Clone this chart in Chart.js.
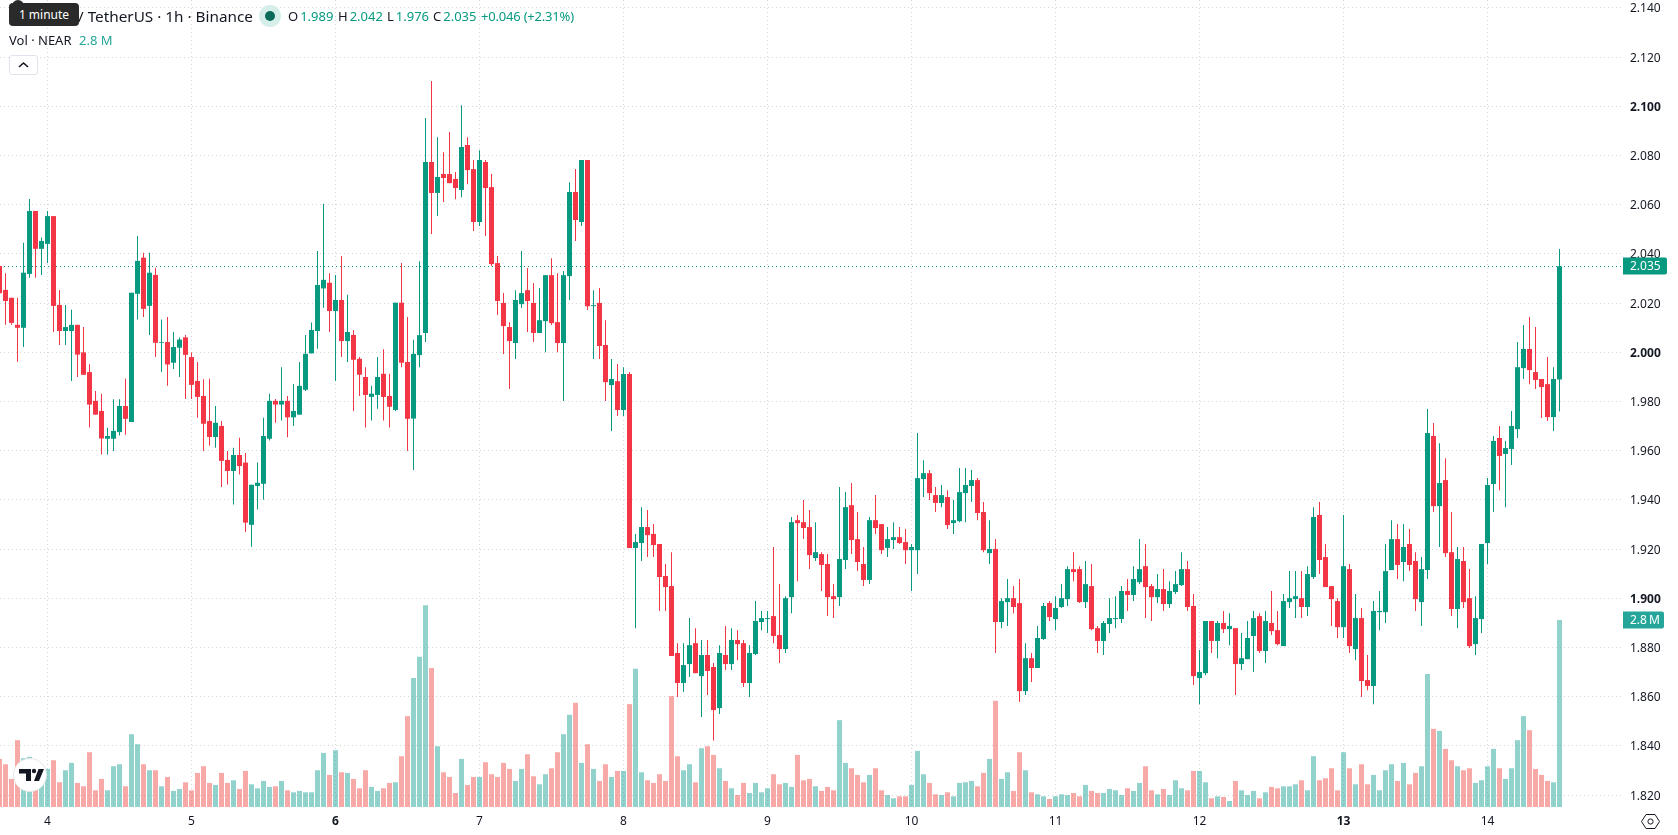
<!DOCTYPE html>
<html>
<head>
<meta charset="utf-8">
<title>NEAR / TetherUS 1h</title>
<script src="https://cdn.jsdelivr.net/npm/chart.js@4"></script>
<style>
    html, body { margin: 0; padding: 0; background: #fff; overflow: hidden; }
    body { width: 1678px; height: 835px; position: relative; font-family: "Noto Sans", sans-serif; color: #131722; }
    canvas { position: absolute; left: 0; top: 0; }
    .txt { position: absolute; white-space: nowrap; line-height: 18px; }
    .up { color: #089981; }
    #tip { position: absolute; left: 9px; top: 3px; width: 70px; height: 23px; background: #2a2a2a; border-radius: 4px; color: #fff; font-size: 12px; line-height: 23px; text-align: center; }
    #tipArrow { position: absolute; left: 12px; top: 0; width: 12px; height: 6px; background: #2a2a2a; border-radius: 6px 6px 0 0; }
    #status { position: absolute; left: 259px; top: 5px; width: 22px; height: 22px; border-radius: 50%; background: #d5eee9; }
    #status div { position: absolute; left: 6px; top: 6px; width: 10px; height: 10px; border-radius: 50%; background: #0b6b5b; }
    #toggle { position: absolute; left: 9px; top: 55px; width: 27px; height: 18px; background: #fff; border: 1px solid #e0e3eb; border-radius: 3px; }
    #logo { position: absolute; left: 13px; top: 758px; width: 34px; height: 34px; }
    #gear { position: absolute; left: 1639px; top: 810px; width: 23px; height: 23px; }
</style>
</head>
<body>
<canvas id="candles" width="1678" height="835"></canvas>

<div class="txt" style="left:78px;top:7px;font-size:15.3px">/ TetherUS · 1h · Binance</div>
<div id="status"><div></div></div>
<div class="txt" style="left:288px;top:7px;font-size:13px">O<span class="up" style="margin-left:2px">1.989</span></div>
<div class="txt" style="left:338px;top:7px;font-size:13px">H<span class="up" style="margin-left:2px">2.042</span></div>
<div class="txt" style="left:387px;top:7px;font-size:13px">L<span class="up" style="margin-left:2px">1.976</span></div>
<div class="txt" style="left:433px;top:7px;font-size:13px">C<span class="up" style="margin-left:2px">2.035</span></div>
<div class="txt up" style="left:481px;top:7px;font-size:13px;letter-spacing:-0.2px">+0.046 (+2.31%)</div>
<div class="txt" style="left:9px;top:31px;font-size:13px">Vol · NEAR</div>
<div class="txt" style="left:79px;top:31px;font-size:13px;color:#26a69a">2.8 M</div>
<div id="toggle">
    <svg width="27" height="18"><path d="M9 11 L13.5 7 L18 11" fill="none" stroke="#131722" stroke-width="1.6"/></svg>
</div>
<div id="tipArrow"></div>
<div id="tip">1 minute</div>

<svg id="logo" viewBox="0 0 34 34">
    <circle cx="17" cy="17" r="16.5" fill="#fff" stroke="#e6e6e6"/>
    <path d="M6 11h12v12h-5v-7.5H6z M21 23l4.5-12h5.5l-5 12z" fill="#131722"/>
    <circle cx="21" cy="13" r="2.2" fill="#131722"/>
</svg>
<svg id="gear" viewBox="0 0 23 23">
    <path d="M7 4.5h9l4.5 7-4.5 7H7l-4.5-7z" fill="none" stroke="#131722"/>
    <circle cx="11.5" cy="11.5" r="2.6" fill="none" stroke="#131722"/>
</svg>

<script>
// hourly candles, index 0 is the 00:00 candle of day 4
var firstHour = -8;

var opens = [
    2.0351, 2.0254, 2.0222, 2.0112, 2.0100, 2.0319, 2.0575, 2.0421,
    2.0441, 2.0554, 2.0193, 2.0087, 2.0087, 2.0112, 2.0000, 1.9920, 1.9803, 1.9762, 1.9649, 1.9649, 1.9676, 1.9782, 1.9717, 2.0238,
    2.0385, 2.0189, 2.0315, 2.0039, 2.0042, 1.9958, 2.0019, 2.0061, 1.9981, 1.9884, 1.9823, 1.9721, 1.9656, 1.9701, 1.9563, 1.9518,
    1.9583, 1.9552, 1.9299, 1.9457, 1.9466, 1.9649, 1.9803, 1.9788,
    1.9803, 1.9736, 1.9747, 1.9848, 1.9996, 2.0087, 2.0260, 2.0283, 2.0168, 2.0213, 2.0046, 2.0071, 1.9974, 1.9900, 1.9819, 1.9827,
    1.9913, 1.9823, 1.9766, 2.0202, 1.9961, 1.9731, 1.9989, 2.0079,
    2.0774, 2.0648, 2.0725, 2.0725, 2.0705, 2.0660, 2.0843, 2.0745, 2.0530, 2.0774, 2.0672, 2.0363, 2.0201, 2.0103, 2.0038, 2.0196,
    2.0253, 2.0201, 2.0079, 2.0127, 2.0314, 2.0123, 2.0038, 2.0310,
    2.0652, 2.0530, 2.0782, 2.0188, 2.0201, 2.0030, 1.9867, 1.9883, 1.9766, 1.9912, 1.9205, 1.9225, 1.9290, 1.9262, 1.9221, 1.9091,
    1.9050, 1.8778, 1.8656, 1.8733, 1.8818, 1.8684, 1.8770, 1.8721,
    1.8554, 1.8770, 1.8733, 1.8831, 1.8818, 1.8656, 1.8774, 1.8904, 1.8916, 1.8928, 1.8851, 1.8794, 1.9005, 1.9318, 1.9310, 1.9290,
    1.9164, 1.9180, 1.9140, 1.9009, 1.9005, 1.9156, 1.9379, 1.9241,
    1.9140, 1.9075, 1.9318, 1.9302, 1.9205, 1.9237, 1.9249, 1.9229, 1.9196, 1.9196, 1.9485, 1.9509, 1.9420, 1.9388, 1.9412, 1.9306,
    1.9314, 1.9428, 1.9457, 1.9481, 1.9351, 1.9184, 1.9201, 1.8904,
    1.8985, 1.9001, 1.8981, 1.8623, 1.8757, 1.8717, 1.8835, 1.8981, 1.8916, 1.8965, 1.8997, 1.9119, 1.9119, 1.8985, 1.9050, 1.8879,
    1.8827, 1.8896, 1.8916, 1.8916, 1.9030, 1.9014, 1.9066, 1.9131,
    1.9050, 1.9005, 1.9038, 1.8977, 1.9026, 1.9054, 1.9119, 1.8969, 1.8676, 1.8696, 1.8908, 1.8827, 1.8900, 1.8875, 1.8879, 1.8733,
    1.8753, 1.8847, 1.8928, 1.8786, 1.8900, 1.8871, 1.8806, 1.8985,
    1.8997, 1.9001, 1.8965, 1.9087, 1.9339, 1.9168, 1.9050, 1.8989, 1.8883, 1.9119, 1.8794, 1.8920, 1.8668, 1.8644, 1.8944, 1.8944,
    1.9115, 1.9241, 1.9148, 1.9221, 1.9152, 1.8985, 1.9115, 1.9660,
    1.9375, 1.9481, 1.9188, 1.8957, 1.9152, 1.9001, 1.8814, 1.8916, 1.9225, 1.9465, 1.9652, 1.9587, 1.9607, 1.9688, 1.9936, 2.0014,
    1.9920, 1.9892, 1.9871, 1.9737, 1.989
];
var closes = [
    2.0240, 2.0209, 2.0120, 2.0100, 2.0324, 2.0575, 2.0421, 2.0453,
    2.0554, 2.0189, 2.0087, 2.0103, 2.0112, 1.9991, 1.9909, 1.9788, 1.9747, 1.9650, 1.9660, 1.9681, 1.9782, 1.9730, 2.0242, 2.0372,
    2.0177, 2.0324, 2.0039, 2.0042, 1.9951, 2.0022, 2.0052, 1.9990, 1.9868, 1.9819, 1.9710, 1.9656, 1.9714, 1.9559, 1.9518, 1.9583,
    1.9538, 1.9308, 1.9462, 1.9470, 1.9660, 1.9803, 1.9788, 1.9803,
    1.9736, 1.9762, 1.9864, 1.9994, 2.0091, 2.0274, 2.0295, 2.0168, 2.0213, 2.0046, 2.0083, 1.9970, 1.9909, 1.9827, 1.9832, 1.9900,
    1.9819, 1.9779, 2.0202, 1.9958, 1.9730, 1.9994, 2.0070, 2.0774,
    2.0648, 2.0713, 2.0709, 2.0688, 2.0668, 2.0835, 2.0741, 2.0530, 2.0782, 2.0668, 2.0359, 2.0209, 2.0107, 2.0046, 2.0213, 2.0241,
    2.0209, 2.0079, 2.0131, 2.0314, 2.0119, 2.0038, 2.0314, 2.0652,
    2.0538, 2.0782, 2.0188, 2.0192, 2.0026, 1.9879, 1.9892, 1.9766, 1.9912, 1.9205, 1.9229, 1.9290, 1.9257, 1.9217, 1.9087, 1.9046,
    1.8766, 1.8656, 1.8729, 1.8810, 1.8696, 1.8770, 1.8705, 1.8546,
    1.8778, 1.8733, 1.8831, 1.8814, 1.8656, 1.8778, 1.8908, 1.8920, 1.8920, 1.8847, 1.8794, 1.9001, 1.9310, 1.9306, 1.9286, 1.9176,
    1.9188, 1.9136, 1.9005, 1.8997, 1.9160, 1.9371, 1.9237, 1.9148,
    1.9075, 1.9318, 1.9286, 1.9196, 1.9241, 1.9249, 1.9225, 1.9196, 1.9209, 1.9489, 1.9509, 1.9428, 1.9388, 1.9420, 1.9298, 1.9318,
    1.9432, 1.9461, 1.9481, 1.9347, 1.9196, 1.9201, 1.8904, 1.8989,
    1.9001, 1.8965, 1.8623, 1.8757, 1.8717, 1.8839, 1.8969, 1.8924, 1.8961, 1.9001, 1.9119, 1.9107, 1.8985, 1.9058, 1.8875, 1.8827,
    1.8900, 1.8920, 1.8920, 1.9030, 1.9014, 1.9079, 1.9119, 1.9046,
    1.9005, 1.9038, 1.8977, 1.9030, 1.9058, 1.9119, 1.8965, 1.8684, 1.8701, 1.8908, 1.8827, 1.8900, 1.8875, 1.8888, 1.8733, 1.8757,
    1.8839, 1.8920, 1.8786, 1.8908, 1.8867, 1.8814, 1.8989, 1.9001,
    1.9009, 1.8965, 1.9099, 1.9331, 1.9156, 1.9046, 1.8997, 1.8883, 1.9131, 1.8806, 1.8920, 1.8664, 1.8644, 1.8949, 1.8949, 1.9111,
    1.9241, 1.9136, 1.9209, 1.9136, 1.8997, 1.9119, 1.9672, 1.9375,
    1.9469, 1.9184, 1.8957, 1.9160, 1.8985, 1.8806, 1.8920, 1.9221, 1.9461, 1.9640, 1.9579, 1.9611, 1.9701, 1.9940, 2.0014, 1.9928,
    1.9888, 1.9859, 1.9737, 1.9892, 2.035
];
var highs = [
    2.0360, 2.0322, 2.0222, 2.0222, 2.0446, 2.0624, 2.0575, 2.0467,
    2.0575, 2.0554, 2.0254, 2.0193, 2.0173, 2.0112, 2.0103, 1.9952, 1.9843, 1.9832, 1.9694, 1.9810, 1.9810, 1.9893, 2.0242, 2.0473,
    2.0405, 2.0405, 2.0344, 2.0134, 2.0144, 2.0083, 2.0061, 2.0071, 2.0000, 1.9961, 1.9891, 1.9893, 1.9782, 1.9721, 1.9599, 1.9612,
    1.9653, 1.9591, 1.9462, 1.9552, 1.9734, 1.9832, 1.9811, 1.9940,
    1.9823, 1.9872, 1.9961, 2.0071, 2.0122, 2.0412, 2.0604, 2.0322, 2.0315, 2.0392, 2.0234, 2.0091, 1.9981, 1.9940, 1.9864, 1.9981,
    2.0013, 1.9913, 2.0202, 2.0363, 2.0144, 2.0051, 2.0371, 2.0953,
    2.1103, 2.0875, 2.0814, 2.0896, 2.0733, 2.1005, 2.0875, 2.0782, 2.0822, 2.0782, 2.0725, 2.0392, 2.0241, 2.0123, 2.0253, 2.0412,
    2.0343, 2.0282, 2.0262, 2.0314, 2.0383, 2.0322, 2.0331, 2.0692,
    2.0745, 2.0782, 2.0782, 2.0253, 2.0262, 2.0131, 1.9973, 1.9953, 1.9940, 1.9920, 1.9262, 1.9371, 1.9359, 1.9302, 1.9221, 1.9140,
    1.9188, 1.8818, 1.8818, 1.8920, 1.8879, 1.8831, 1.8831, 1.8737,
    1.8810, 1.8888, 1.8879, 1.8871, 1.8831, 1.8810, 1.8989, 1.8949, 1.8949, 1.9209, 1.9058, 1.9009, 1.9331, 1.9339, 1.9400, 1.9359,
    1.9310, 1.9188, 1.9180, 1.9058, 1.9453, 1.9432, 1.9469, 1.9351,
    1.9209, 1.9331, 1.9420, 1.9302, 1.9290, 1.9310, 1.9290, 1.9282, 1.9221, 1.9672, 1.9562, 1.9522, 1.9453, 1.9461, 1.9440, 1.9400,
    1.9530, 1.9530, 1.9522, 1.9489, 1.9392, 1.9318, 1.9241, 1.9001,
    1.9079, 1.9050, 1.9079, 1.8818, 1.8778, 1.8888, 1.8981, 1.8989, 1.9009, 1.9058, 1.9131, 1.9188, 1.9131, 1.9152, 1.9140, 1.8888,
    1.8908, 1.9001, 1.9009, 1.9050, 1.9079, 1.9131, 1.9241, 1.9221,
    1.9058, 1.9099, 1.9119, 1.9070, 1.9111, 1.9188, 1.9152, 1.9018, 1.8790, 1.8908, 1.8908, 1.8908, 1.8949, 1.8940, 1.8879, 1.8859,
    1.8908, 1.8949, 1.8940, 1.8949, 1.9030, 1.8949, 1.9018, 1.9111,
    1.9111, 1.9111, 1.9131, 1.9371, 1.9392, 1.9221, 1.9050, 1.9001, 1.9339, 1.9140, 1.9018, 1.8961, 1.8770, 1.8989, 1.9030, 1.9221,
    1.9318, 1.9302, 1.9302, 1.9282, 1.9188, 1.9168, 1.9770, 1.9713,
    1.9631, 1.9570, 1.9351, 1.9209, 1.9209, 1.9119, 1.9009, 1.9221, 1.9489, 1.9660, 1.9701, 1.9640, 1.9762, 2.0042, 2.0111, 2.0144,
    2.0103, 1.9892, 1.9981, 1.9940, 2.042
];
var lows = [
    2.0220, 2.0112, 2.0112, 1.9962, 2.0022, 2.0303, 2.0303, 2.0315,
    2.0363, 2.0083, 2.0030, 2.0030, 1.9884, 1.9900, 1.9909, 1.9695, 1.9747, 1.9585, 1.9585, 1.9599, 1.9662, 1.9665, 1.9717, 2.0134,
    2.0144, 2.0071, 1.9981, 1.9920, 1.9864, 1.9933, 1.9900, 1.9811, 1.9811, 1.9734, 1.9599, 1.9620, 1.9612, 1.9453, 1.9463, 1.9382,
    1.9504, 1.9270, 1.9210, 1.9361, 1.9401, 1.9642, 1.9714, 1.9723,
    1.9655, 1.9701, 1.9747, 1.9843, 1.9996, 2.0015, 2.0181, 2.0083, 1.9884, 1.9981, 1.9961, 1.9762, 1.9823, 1.9695, 1.9723, 1.9771,
    1.9723, 1.9695, 1.9762, 1.9940, 1.9599, 1.9522, 1.9940, 2.0042,
    2.0481, 2.0554, 2.0611, 2.0688, 2.0623, 2.0631, 2.0684, 2.0493, 2.0514, 2.0473, 2.0351, 2.0152, 1.9993, 1.9851, 1.9973, 2.0180,
    2.0083, 2.0042, 2.0079, 2.0001, 2.0111, 2.0001, 1.9802, 2.0213,
    2.0453, 2.0514, 2.0172, 1.9973, 1.9973, 1.9802, 1.9680, 1.9741, 1.9741, 1.9205, 1.8879, 1.9152, 1.9168, 1.9168, 1.8949, 1.8949,
    1.8766, 1.8599, 1.8619, 1.8680, 1.8696, 1.8518, 1.8607, 1.8422,
    1.8530, 1.8709, 1.8709, 1.8749, 1.8640, 1.8599, 1.8770, 1.8871, 1.8859, 1.8818, 1.8737, 1.8778, 1.8940, 1.9070, 1.9241, 1.9119,
    1.9152, 1.9030, 1.8928, 1.8920, 1.8969, 1.9119, 1.9180, 1.9111,
    1.9050, 1.9058, 1.9262, 1.9180, 1.9168, 1.9201, 1.9221, 1.9140, 1.9030, 1.9099, 1.9412, 1.9400, 1.9351, 1.9371, 1.9282, 1.9262,
    1.9310, 1.9310, 1.9392, 1.9318, 1.9188, 1.9140, 1.8778, 1.8879,
    1.8888, 1.8940, 1.8579, 1.8607, 1.8660, 1.8717, 1.8831, 1.8908, 1.8871, 1.8961, 1.8969, 1.9070, 1.8981, 1.8961, 1.8871, 1.8778,
    1.8770, 1.8859, 1.8879, 1.8900, 1.8949, 1.8989, 1.9058, 1.8920,
    1.8908, 1.8981, 1.8949, 1.8961, 1.9018, 1.9050, 1.8949, 1.8648, 1.8570, 1.8688, 1.8778, 1.8757, 1.8859, 1.8810, 1.8607, 1.8709,
    1.8753, 1.8701, 1.8778, 1.8737, 1.8851, 1.8810, 1.8806, 1.8961,
    1.8920, 1.8920, 1.8928, 1.9079, 1.9099, 1.9046, 1.8888, 1.8839, 1.8839, 1.8778, 1.8749, 1.8599, 1.8627, 1.8570, 1.8871, 1.8900,
    1.9115, 1.9079, 1.9070, 1.9111, 1.8949, 1.8888, 1.9079, 1.9351,
    1.9209, 1.9168, 1.8928, 1.8879, 1.8961, 1.8798, 1.8770, 1.8859, 1.9140, 1.9351, 1.9440, 1.9371, 1.9542, 1.9652, 1.9892, 1.9871,
    1.9851, 1.9733, 1.9721, 1.9680, 1.976
];
// volume in millions
var volumes = [
    0.72, 0.64, 0.42, 1.00, 0.73, 0.75, 0.40, 0.38,
    0.57, 0.70, 0.37, 0.55, 0.66, 0.36, 0.31, 0.82, 0.25, 0.42, 0.25, 0.61, 0.64, 0.31, 1.09, 0.94,
    0.64, 0.55, 0.55, 0.31, 0.45, 0.24, 0.27, 0.37, 0.25, 0.51, 0.61, 0.36, 0.33, 0.51, 0.36, 0.40,
    0.27, 0.54, 0.34, 0.28, 0.39, 0.30, 0.31, 0.39,
    0.25, 0.22, 0.24, 0.22, 0.22, 0.55, 0.81, 0.48, 0.85, 0.52, 0.51, 0.42, 0.28, 0.55, 0.30, 0.24,
    0.28, 0.36, 0.37, 0.76, 1.36, 1.93, 2.25, 3.02,
    2.08, 0.91, 0.52, 0.45, 0.21, 0.72, 0.33, 0.45, 0.45, 0.67, 0.49, 0.45, 0.66, 0.57, 0.39, 0.57,
    0.79, 0.46, 0.34, 0.49, 0.58, 0.82, 1.09, 1.38,
    1.56, 0.66, 0.94, 0.57, 0.39, 0.64, 0.45, 0.54, 0.54, 1.54, 2.07, 0.52, 0.40, 0.36, 0.49, 0.39,
    1.66, 0.76, 0.55, 0.64, 0.37, 0.88, 0.91, 0.78,
    0.58, 0.39, 0.28, 0.18, 0.36, 0.21, 0.36, 0.22, 0.28, 0.49, 0.34, 0.36, 0.30, 0.78, 0.40, 0.42,
    0.31, 0.24, 0.30, 0.25, 1.30, 0.66, 0.58, 0.48,
    0.37, 0.48, 0.58, 0.25, 0.18, 0.13, 0.16, 0.16, 0.33, 0.84, 0.49, 0.36, 0.19, 0.18, 0.22, 0.16,
    0.36, 0.37, 0.39, 0.31, 0.51, 0.72, 1.59, 0.42,
    0.52, 0.24, 0.82, 0.55, 0.22, 0.19, 0.16, 0.12, 0.16, 0.19, 0.18, 0.21, 0.16, 0.33, 0.24, 0.21,
    0.21, 0.27, 0.25, 0.18, 0.28, 0.24, 0.36, 0.61,
    0.25, 0.19, 0.27, 0.18, 0.40, 0.28, 0.25, 0.54, 0.54, 0.37, 0.13, 0.16, 0.15, 0.09, 0.39, 0.25,
    0.18, 0.24, 0.13, 0.22, 0.30, 0.28, 0.31, 0.31,
    0.34, 0.40, 0.25, 0.76, 0.40, 0.43, 0.58, 0.25, 0.82, 0.58, 0.34, 0.64, 0.34, 0.48, 0.25, 0.55,
    0.64, 0.39, 0.66, 0.34, 0.51, 0.61, 1.99, 1.17,
    1.14, 0.87, 0.70, 0.61, 0.55, 0.58, 0.36, 0.40, 0.61, 0.87, 0.58, 0.42, 0.58, 1.00, 1.36, 1.15,
    0.57, 0.48, 0.39, 0.37, 2.80
];

var dayHours = [0, 24, 48, 72, 96, 120, 144, 168, 192, 216, 240];
var dayLabels = ['4', '5', '6', '7', '8', '9', '10', '11', '12', '13', '14'];
var boldDays = ['6', '13'];
var priceTicks = [2.14, 2.12, 2.10, 2.08, 2.06, 2.04, 2.02, 2.00, 1.98, 1.96, 1.94, 1.92, 1.90, 1.88, 1.86, 1.84, 1.82];
var boldPrices = [2.10, 2.00, 1.90];

var GREEN = '#089981';
var RED = '#f23645';
var FONT = '"Noto Sans", sans-serif';

function candleColor(ctx) {
    var i = ctx.dataIndex;
    return closes[i] >= opens[i] ? GREEN : RED;
}

function volumeColor(ctx) {
    var i = ctx.dataIndex;
    return closes[i] >= opens[i] ? 'rgba(38, 166, 154, 0.5)' : 'rgba(239, 83, 80, 0.5)';
}

// tick labels may hang past the plot edges, so the axes get no extra padding
function clearPadding(scale) {
    scale.paddingTop = 0;
    scale.paddingBottom = 0;
    scale.paddingLeft = 0;
    scale.paddingRight = 0;
}

// last price line and the two tags on the price axis
var lastValuePlugin = {
    id: 'lastValue',
    beforeDatasetsDraw: function(chart) {
        var c = chart.ctx;
        var area = chart.chartArea;
        var y = Math.round(chart.scales.y.getPixelForValue(closes[closes.length - 1])) + 0.5;
        c.save();
        c.strokeStyle = GREEN;
        c.lineWidth = 1;
        c.setLineDash([1, 3]);
        c.beginPath();
        c.moveTo(area.left, y);
        c.lineTo(area.right, y);
        c.stroke();
        c.restore();
    },
    afterDraw: function(chart) {
        var last = closes.length - 1;
        drawTag(chart, chart.scales.y.getPixelForValue(closes[last]), closes[last].toFixed(3), GREEN, 44);
        drawTag(chart, chart.scales.vol.getPixelForValue(volumes[last]), volumes[last].toFixed(1) + '\u2009M', '#26a69a', 41);
    }
};

function drawTag(chart, y, text, color, width) {
    var c = chart.ctx;
    var left = chart.chartArea.right + 1;
    c.save();
    c.fillStyle = color;
    c.beginPath();
    c.roundRect(left, Math.round(y) - 8.5, width, 17, [0, 2, 2, 0]);
    c.fill();
    c.fillStyle = '#fff';
    c.font = '12px ' + FONT;
    c.textBaseline = 'middle';
    c.fillText(text, left + 7, y + 0.5);
    c.restore();
}

var hours = opens.map(function(o, i) { return i + firstHour; });

new Chart(document.getElementById('candles').getContext('2d'), {
    type: 'bar',
    plugins: [lastValuePlugin],
    data: {
        datasets: [{
            label: 'Candle body',
            data: hours.map(function(h, i) { return { x: h, y: [opens[i], closes[i]] }; }),
            backgroundColor: candleColor,
            barThickness: 5,
            grouped: false,
            inflateAmount: 0,
            yAxisID: 'y',
            order: 1
        }, {
            label: 'Candle wick',
            data: hours.map(function(h, i) { return { x: h, y: [lows[i], highs[i]] }; }),
            backgroundColor: candleColor,
            barThickness: 1,
            grouped: false,
            inflateAmount: 0,
            yAxisID: 'y',
            order: 2
        }, {
            label: 'Volume',
            data: hours.map(function(h, i) { return { x: h, y: volumes[i] }; }),
            backgroundColor: volumeColor,
            barThickness: 5,
            grouped: false,
            inflateAmount: 0,
            yAxisID: 'vol',
            order: 3
        }]
    },
    options: {
        responsive: false,
        animation: false,
        layout: { padding: 0, autoPadding: false },
        plugins: {
            legend: { display: false },
            tooltip: { enabled: false }
        },
        scales: {
            x: {
                type: 'linear',
                offset: false,
                min: -47.5 / 6,
                max: 1574.5 / 6,
                afterFit: function(scale) {
                    scale.height = 28;
                    clearPadding(scale);
                },
                afterBuildTicks: function(scale) {
                    scale.ticks = dayHours.map(function(h) { return { value: h }; });
                },
                grid: { color: '#d6d6d6', drawTicks: false, offset: false },
                border: { display: false, dash: [1, 3] },
                ticks: {
                    autoSkip: false,
                    maxRotation: 0,
                    padding: 7,
                    color: '#131722',
                    callback: function(value) { return dayLabels[dayHours.indexOf(value)]; },
                    font: function(ctx) {
                        var label = dayLabels[ctx.index];
                        return { family: FONT, size: 12, weight: boldDays.indexOf(label) >= 0 ? 'bold' : 'normal' };
                    }
                }
            },
            y: {
                position: 'right',
                min: 1.8152,
                max: 2.14325,
                afterFit: function(scale) {
                    scale.width = 56;
                    clearPadding(scale);
                },
                afterBuildTicks: function(scale) {
                    scale.ticks = priceTicks.map(function(p) { return { value: p }; });
                },
                grid: { color: '#d6d6d6', drawTicks: false },
                border: { display: false, dash: [1, 3] },
                ticks: {
                    padding: 8,
                    labelOffset: 1,
                    color: '#131722',
                    callback: function(value) { return value.toFixed(3); },
                    font: function(ctx) {
                        var bold = boldPrices.indexOf(priceTicks[ctx.index]) >= 0;
                        return { family: FONT, size: 12, weight: bold ? 'bold' : 'normal' };
                    }
                }
            },
            vol: {
                display: false,
                min: 0,
                max: 12.08
            }
        }
    }
});
</script>
</body>
</html>
